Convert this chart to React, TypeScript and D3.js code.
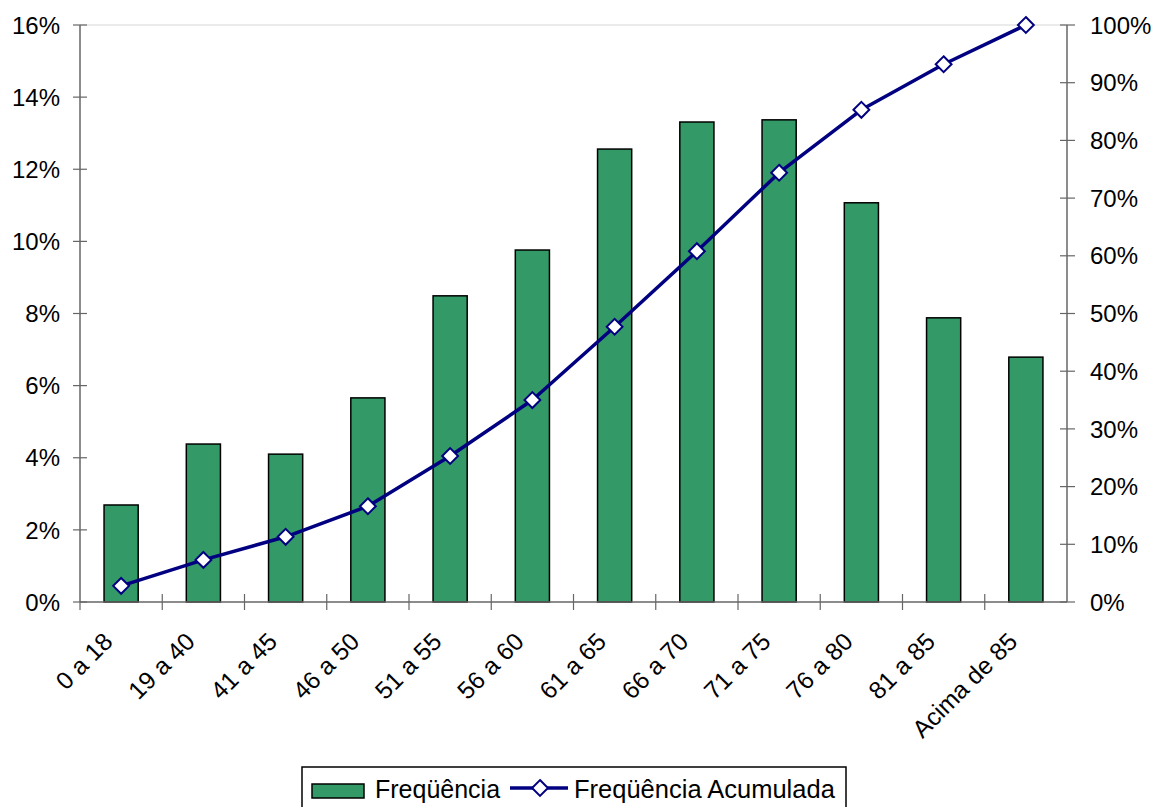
import React, { useEffect, useRef } from "react";
import * as d3 from "d3";

const categories = [
  "0 a 18",
  "19 a 40",
  "41 a 45",
  "46 a 50",
  "51 a 55",
  "56 a 60",
  "61 a 65",
  "66 a 70",
  "71 a 75",
  "76 a 80",
  "81 a 85",
  "Acima de 85",
];
const frequencia = [0.0269, 0.0438, 0.041, 0.0566, 0.0849, 0.0976, 0.1256, 0.1331, 0.1337, 0.1107, 0.0788, 0.0679];
const acumulada = [0.028, 0.073, 0.113, 0.166, 0.253, 0.35, 0.477, 0.608, 0.744, 0.853, 0.932, 1.0];
const leftTicks = [0, 0.02, 0.04, 0.06, 0.08, 0.1, 0.12, 0.14, 0.16];
const rightTicks = [0, 0.1, 0.2, 0.3, 0.4, 0.5, 0.6, 0.7, 0.8, 0.9, 1.0];
const seriesNames = ["Freqüência", "Freqüência Acumulada"];

export default function App() {
  const ref = useRef<SVGSVGElement>(null);

  useEffect(() => {
    if (!ref.current) return;
    const svg = d3.select(ref.current);
    svg.selectAll("*").remove();

    const left = 80;
    const right = 1067;
    const top = 25;
    const bottom = 602;
    const font = "'Liberation Sans', Arial, sans-serif";
    const axisColor = "#666";

    const x = d3.scaleBand().domain(categories).range([left, right]).padding(0);
    const yL = d3.scaleLinear().domain([0, 0.16]).range([bottom, top]);
    const yR = d3.scaleLinear().domain([0, 1]).range([bottom, top]);
    const barW = x.bandwidth() * 0.415;
    const fmt = d3.format(".0%");

    // top border of plot area
    svg
      .append("line")
      .attr("x1", left)
      .attr("x2", right)
      .attr("y1", top)
      .attr("y2", top)
      .attr("stroke", "#e4e4e4")
      .attr("stroke-width", 1.5);

    // bars
    svg
      .append("g")
      .selectAll("rect")
      .data(frequencia)
      .join("rect")
      .attr("x", (_, i) => (x(categories[i]) as number) + (x.bandwidth() - barW) / 2)
      .attr("y", (d) => yL(d))
      .attr("width", barW)
      .attr("height", (d) => bottom - yL(d))
      .attr("fill", "#339966")
      .attr("stroke", "#000")
      .attr("stroke-width", 1.5);

    // left axis
    const gl = svg.append("g").attr("font-family", font).attr("font-size", 24);
    gl.append("line").attr("x1", left).attr("x2", left).attr("y1", top).attr("y2", bottom).attr("stroke", axisColor).attr("stroke-width", 1.5);
    leftTicks.forEach((t) => {
      gl.append("line").attr("x1", left - 7).attr("x2", left + 7).attr("y1", yL(t)).attr("y2", yL(t)).attr("stroke", axisColor).attr("stroke-width", 1.2);
      gl.append("text").attr("x", left - 20).attr("y", yL(t)).attr("dy", "0.36em").attr("text-anchor", "end").attr("fill", "#000").text(fmt(t));
    });

    // right axis
    const gr = svg.append("g").attr("font-family", font).attr("font-size", 24);
    gr.append("line").attr("x1", right).attr("x2", right).attr("y1", top).attr("y2", bottom).attr("stroke", axisColor).attr("stroke-width", 1.5);
    rightTicks.forEach((t) => {
      gr.append("line").attr("x1", right - 7).attr("x2", right + 8).attr("y1", yR(t)).attr("y2", yR(t)).attr("stroke", axisColor).attr("stroke-width", 1.2);
      gr.append("text").attr("x", right + 23).attr("y", yR(t)).attr("dy", "0.36em").attr("text-anchor", "start").attr("fill", "#000").text(fmt(t));
    });

    // bottom axis
    const gb = svg.append("g").attr("font-family", font).attr("font-size", 24.5);
    gb.append("line").attr("x1", left).attr("x2", right).attr("y1", bottom).attr("y2", bottom).attr("stroke", axisColor).attr("stroke-width", 1.5);
    categories.forEach((c, i) => {
      const x0 = x(c) as number;
      if (i > 0) {
        gb.append("line").attr("x1", x0).attr("x2", x0).attr("y1", bottom - 8).attr("y2", bottom + 8).attr("stroke", axisColor).attr("stroke-width", 1.2);
      }
      const cx = x0 + x.bandwidth() / 2;
      gb.append("text")
        .attr("transform", `translate(${cx - 7},${643}) rotate(-45)`)
        .attr("text-anchor", "end")
        .attr("fill", "#000")
        .text(c);
    });
    gb.append("line").attr("x1", left).attr("x2", left).attr("y1", bottom).attr("y2", bottom + 8).attr("stroke", axisColor).attr("stroke-width", 1.2);

    // cumulative line
    const line = d3
      .line<number>()
      .x((_, i) => (x(categories[i]) as number) + x.bandwidth() / 2)
      .y((d) => yR(d));
    svg.append("path").datum(acumulada).attr("d", line).attr("fill", "none").attr("stroke", "#000080").attr("stroke-width", 3.5).attr("stroke-linejoin", "round");

    const diamond = d3.symbol().type(d3.symbolDiamond2).size(160);
    svg
      .append("g")
      .selectAll("path")
      .data(acumulada)
      .join("path")
      .attr("d", diamond)
      .attr("transform", (d, i) => `translate(${(x(categories[i]) as number) + x.bandwidth() / 2},${yR(d)})`)
      .attr("fill", "#fff")
      .attr("stroke", "#000080")
      .attr("stroke-width", 2);

    // legend
    const lg = svg.append("g").attr("font-family", font).attr("font-size", 25);
    lg.append("rect").attr("x", 302).attr("y", 767).attr("width", 544).attr("height", 60).attr("fill", "#fff").attr("stroke", "#000").attr("stroke-width", 1.5);
    lg.append("rect").attr("x", 312).attr("y", 784).attr("width", 52).attr("height", 14).attr("fill", "#339966").attr("stroke", "#000").attr("stroke-width", 1.5);
    lg.append("text").attr("x", 375).attr("y", 798).attr("fill", "#000").text(seriesNames[0]);
    lg.append("line").attr("x1", 510).attr("x2", 568).attr("y1", 788).attr("y2", 788).attr("stroke", "#000080").attr("stroke-width", 3.5);
    lg.append("path").attr("d", diamond).attr("transform", "translate(540,788)").attr("fill", "#fff").attr("stroke", "#000080").attr("stroke-width", 2);
    lg.append("text").attr("x", 574).attr("y", 798).attr("fill", "#000").attr("font-size", 25.5).text(seriesNames[1]);
  }, []);

  return (
    <svg
      ref={ref}
      width={1156}
      height={807}
      style={{ position: "absolute", left: 0, top: 0, background: "#fff" }}
    />
  );
}
